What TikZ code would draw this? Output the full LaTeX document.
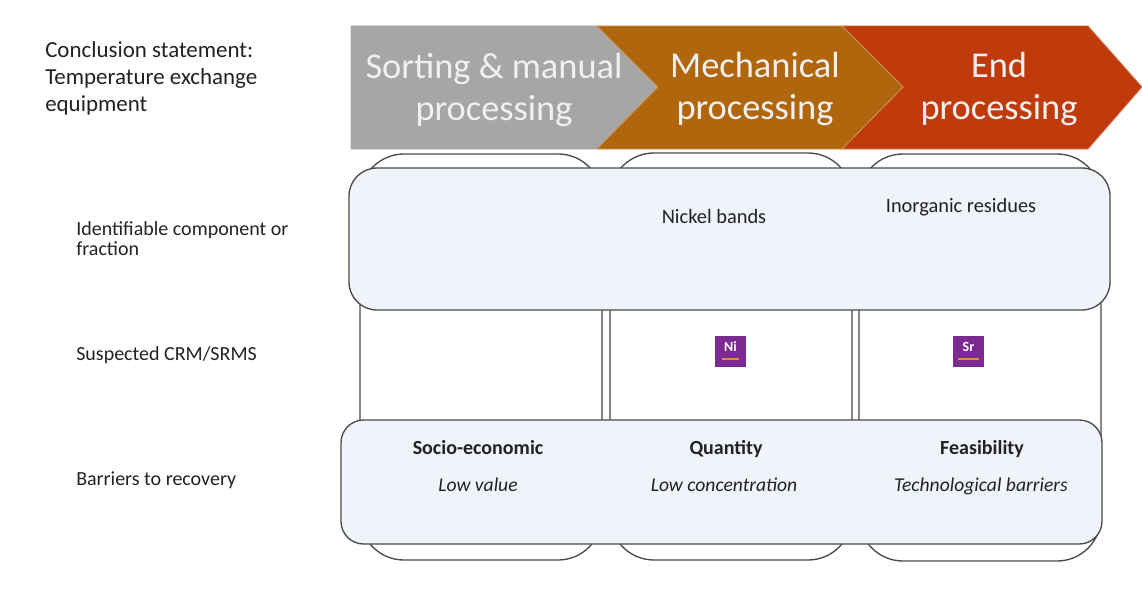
\documentclass[tikz,border=0pt]{standalone}
\usepackage{fontspec}
\setmainfont{Carlito}
\definecolor{bandfill}{HTML}{F0F3FA}
\definecolor{linegray}{HTML}{4A4A4A}
\definecolor{chgray}{HTML}{A6A6A6}
\definecolor{chorange}{HTML}{B0660C}
\definecolor{chred}{HTML}{BF3B0B}
\definecolor{tile}{HTML}{7B2A92}
\definecolor{tilebar}{HTML}{D9902A}
\definecolor{txt}{HTML}{222222}
\tikzset{
  x=0.75pt,y=-0.75pt,
  colbox/.style={draw=linegray,line width=1pt,fill=white},
  band/.style={draw=linegray,line width=1pt,fill=bandfill},
  chev/.style={line width=0.6pt,fill=#1},
  chevtext/.style={font=\fontsize{27.3}{31}\selectfont,text=white!94!black,align=center,anchor=center},
  rowlabel/.style={font=\fontsize{15}{15}\selectfont,text=txt,align=left,anchor=west,inner sep=0pt},
  celltext/.style={font=\fontsize{15.3}{16}\selectfont,text=txt,anchor=center,text height=0.7em,text depth=0.2em,inner sep=0pt},
  boldtext/.style={celltext,font=\bfseries\fontsize{15}{16}\selectfont},
  italtext/.style={celltext,font=\itshape\fontsize{14.7}{16}\selectfont},
  tilebox/.style={fill=tile,minimum size=23.5pt,inner sep=0pt,anchor=center},
  tiletext/.style={font=\bfseries\fontsize{10.5}{10.5}\selectfont,text=white,inner sep=0pt},
}
\begin{document}
\begin{tikzpicture}
\useasboundingbox (0,0) rectangle (1142,592);
% columns
\draw[colbox,rounded corners=33pt] (360,154) rectangle (602,560);
\draw[colbox,rounded corners=33pt] (610,153) rectangle (852,560);
\draw[colbox,rounded corners=33pt] (859,154) rectangle (1101,561);
% bands
\draw[band,rounded corners=21pt] (349,168) rectangle (1110,310);
\draw[band,rounded corners=17pt] (341,420) rectangle (1102,544);
% chevrons
\draw[chev=chgray,draw=chgray] (351,26) -- (597,26) -- (658,87) -- (597,149) -- (351,149) -- cycle;
\draw[chev=chred,draw=chred!70!white] (842,26) -- (1088,26) -- (1142,87) -- (1088,149) -- (842,149) -- (903,87) -- cycle;
\draw[chev=chorange,draw=chorange!70!white] (597,26) -- (842,26) -- (903,87) -- (842,149) -- (597,149) -- (658,87) -- cycle;
\node[chevtext] (c1) at (494,90) {Sorting \& manual\\processing};
\node[chevtext] (c2) at (755,89) {Mechanical\\processing};
\node[chevtext] (c3) at (999,89) {End\\processing};
% left texts
\node[font=\fontsize{17.2}{20.3}\selectfont,text=txt,align=left,anchor=west,inner sep=0pt] (title) at (45,78) {Conclusion statement:\\Temperature exchange\\equipment};
\node[rowlabel] (r1) at (76,238.5) {Identifiable component or\\fraction};
\node[rowlabel] (r2) at (76,355) {Suspected CRM/SRMS};
\node[rowlabel] (r3) at (76,480) {Barriers to recovery};
% cell texts
\node[celltext] (n1) at (714,220) {Nickel bands};
\node[celltext] (n2) at (961,209) {Inorganic residues};
\node[tilebox] (ni) at (730.5,351.5) {};
\node[tilebox] (sr) at (968.5,351.5) {};
\node[tiletext] (nit) at (730.5,347) {Ni};
\node[tiletext] (srt) at (968.5,347) {Sr};
\fill[tilebar] (722,358) rectangle (739,360);
\fill[tilebar] (958,358) rectangle (979,360);
\node[boldtext] (b1) at (478,451) {Socio-economic};
\node[boldtext] (b2) at (726,451) {Quantity};
\node[boldtext] (b3) at (982,451) {Feasibility};
\node[italtext] (i1) at (478,488) {Low value};
\node[italtext] (i2) at (724,488) {Low concentration};
\node[italtext] (i3) at (981,488) {Technological barriers};
\end{tikzpicture}
\end{document}
